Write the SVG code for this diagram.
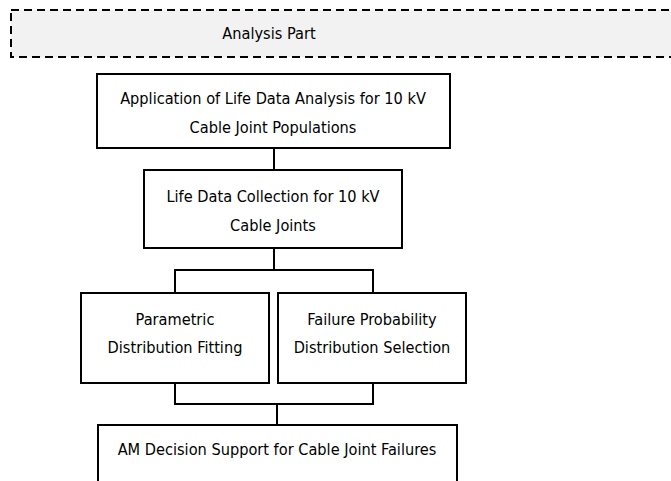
<svg xmlns="http://www.w3.org/2000/svg" width="671" height="481" viewBox="0 0 671 481">
  <style>
    .box { fill: #ffffff; stroke: #000000; stroke-width: 2; }
    .band { fill: #f2f2f2; stroke: #000000; stroke-width: 2; stroke-dasharray: 8 5; }
    .lbl { font-family: "DejaVu Sans", Verdana, sans-serif; font-stretch: condensed; font-size: 16.2px; fill: #000000; text-anchor: middle; }
    .wire { fill: none; stroke: #000000; stroke-width: 2; }
  </style>
  <rect x="0" y="0" width="671" height="481" fill="#ffffff"/>

  <g id="analysis-part">
    <rect class="band" x="11" y="10" width="680" height="47"/>
    <text class="lbl" x="269" y="39">Analysis Part</text>
  </g>

  <g id="connectors">
    <path class="wire" d="M274 148 V170"/>
    <path class="wire" d="M274 248 V270 M175 270 H373 M175 269 V293 M373 269 V293"/>
    <path class="wire" d="M175 383 V404 M373 383 V404 M174 404 H374 M277 404 V425"/>
  </g>

  <g id="life-data-analysis">
    <rect class="box" x="97" y="74" width="353" height="74"/>
    <text class="lbl" x="273" y="104">Application of Life Data Analysis for 10 kV</text>
    <text class="lbl" x="273" y="133">Cable Joint Populations</text>
  </g>

  <g id="life-data-collection">
    <rect class="box" x="144" y="170" width="258" height="78"/>
    <text class="lbl" x="273" y="202">Life Data Collection for 10 kV</text>
    <text class="lbl" x="273" y="231">Cable Joints</text>
  </g>

  <g id="distribution-fitting">
    <rect class="box" x="81" y="293" width="188" height="90"/>
    <text class="lbl" x="175" y="325">Parametric</text>
    <text class="lbl" x="175" y="353">Distribution Fitting</text>
  </g>

  <g id="distribution-selection">
    <rect class="box" x="278" y="293" width="188" height="90"/>
    <text class="lbl" x="372" y="325">Failure Probability</text>
    <text class="lbl" x="372" y="353">Distribution Selection</text>
  </g>

  <g id="am-decision-support">
    <rect class="box" x="98" y="425" width="359" height="70"/>
    <text class="lbl" x="277" y="455">AM Decision Support for Cable Joint Failures</text>
  </g>
</svg>
